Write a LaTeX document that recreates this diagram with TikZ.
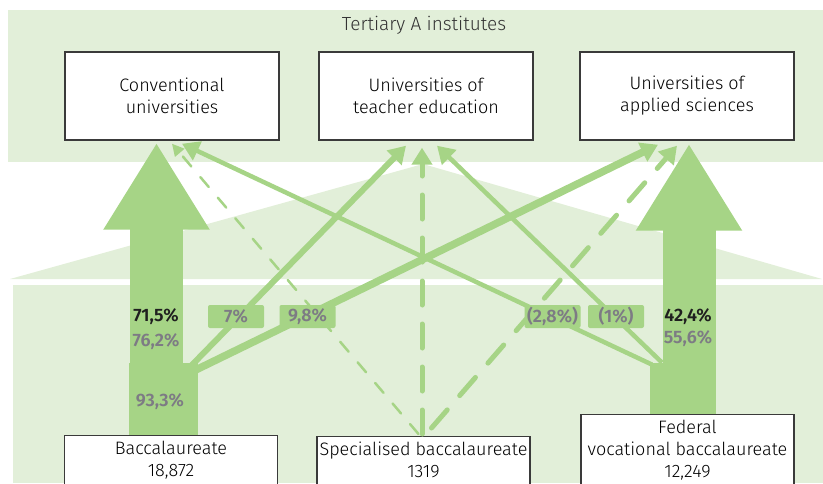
\documentclass[tikz,border=0pt]{standalone}
\usepackage{fontspec}
\setmainfont{Fira Sans Light}[BoldFont={Fira Sans SemiBold}]
\usetikzlibrary{arrows.meta,calc}
\definecolor{cFlow}{HTML}{A6D486}
\definecolor{cBand}{HTML}{E2EFD9}
\definecolor{cPct}{HTML}{7D7B84}
\definecolor{cFrame}{HTML}{3A3A3A}

\begin{document}
\begin{tikzpicture}[
    x=1pt, y=-1pt,
    font=\fontsize{18}{22}\selectfont,
    inst/.style={draw=cFrame, line width=1.4pt, fill=white, align=center, minimum width=214pt, minimum height=88pt, inner sep=0pt},
    src/.style={draw=cFrame, line width=1.2pt, fill=white, align=center, anchor=north, minimum width=213pt, minimum height=80pt, inner xsep=0pt, inner ysep=5.5pt, text depth=50pt},
    big/.style={draw=cFlow, line width=53pt, -{Triangle[width=100pt,length=87pt]}},
    hd/.style={draw=cFlow, -{Triangle[width=20pt,length=17pt]}},
    dsh/.style={hd, line cap=round, line width=5pt, dash pattern=on 24pt off 19pt},
    outflow/.style={fill=cFlow, anchor=south west, inner sep=0pt},
    share/.style={fill=cFlow, rounded corners=2pt, text=cPct, font=\fontsize{18}{22}\selectfont\bfseries, minimum width=56pt, minimum height=23pt, inner sep=0pt},
    pct/.style={text=cPct, font=\fontsize{18}{22}\selectfont\bfseries},
    tot/.style={text=black!88, font=\fontsize{18}{22}\selectfont\bfseries}
]

% background bands
\fill[cBand] (8,10) rectangle (823,162);
\fill[cBand] (10,279) -- (423,164) -- (822,279) -- cycle;
\fill[cBand] (13,285) rectangle (823,483);
\useasboundingbox (0,0) rectangle (823,483);

\node[text=black!80, font=\fontsize{19}{22}\selectfont] (tertiary) at (424,25) {Tertiary A institutes};
\node[inst] (conv) at (172,96) {Conventional\\universities};
\node[inst] (ute) at (426,96) {Universities of\\teacher education};
\node[inst] (uas) at (687,96) {Universities of\\applied sciences};

\node[src] (bacc) at (171,435) {Baccalaureate\\18,872};
\node[src] (spec) at (423.5,436) {Specialised baccalaureate\\1319};
\node[src] (fed) at (687.5,414) {Federal\\vocational baccalaureate\\12,249};

\node[outflow, minimum width=69pt, minimum height=72pt] (baccout) at (bacc.north west -| 129,0) {};
\node[outflow, minimum width=66pt, minimum height=51pt] (fedout) at (fed.north west -| 650,0) {};
\coordinate (baccgo) at (156.5,0);
\coordinate (fedgo) at (689,0);

% specialised baccalaureate
\draw[hd, line cap=round, line width=2.5pt, dash pattern=on 13pt off 14pt, -{Triangle[width=12pt,length=12pt]}]
    ($(spec.north)+(-5,-2)$) -- ($(conv.south)+(0,3)$);
\draw[dsh] ($(spec.north)+(-1.5,-2)$) -- ($(ute.south)+(-4,7)$);
\draw[dsh] ($(spec.north)+(8,-8)$) -- ($(uas.south)+(-10,5)$);

% federal vocational baccalaureate
\draw[hd, line width=4.5pt] ($(fedout.north west)+(2,2)$) -- ($(conv.south)+(10,3)$);
\draw[hd, line width=4.5pt] ($(fedout.north west)+(12,0)$) -- ($(ute.south)+(11,5)$);

% baccalaureate
\draw[hd, line width=6pt] ($(baccout.north east)+(-10,6)$) -- ($(ute.south)+(-20,5)$);
\draw[hd, line width=7.5pt] ($(baccout.north east)+(-4,8)$) -- ($(uas.south)+(-29,4)$);

\draw[big] (baccout.north -| baccgo) -- ($(conv.south -| baccgo)+(0,2)$);
\draw[big] (fedout.north -| fedgo) -- ($(uas.south -| fedgo)+(0,3)$);
\fill[cFlow] (baccout.south west) rectangle (baccout.north east);
\fill[cFlow] (fedout.south west) rectangle (fedout.north east);

\node[share] (s7) at (236,316.5) {7\%};
\node[share] (s98) at (307.5,316.5) {9,8\%};
\node[share] (s28) at (552.5,316.5) {(2,8\%)};
\node[share] (s1) at (616,316.5) {(1\%)};

\node[tot] (t715) at (156,317) {71,5\%};
\node[pct] (p762) at (156,342) {76,2\%};
\node[pct] (p933) at (160,402) {93,3\%};
\node[tot] (t424) at (688,317) {42,4\%};
\node[pct] (p556) at (688,339) {55,6\%};

\end{tikzpicture}
\end{document}
